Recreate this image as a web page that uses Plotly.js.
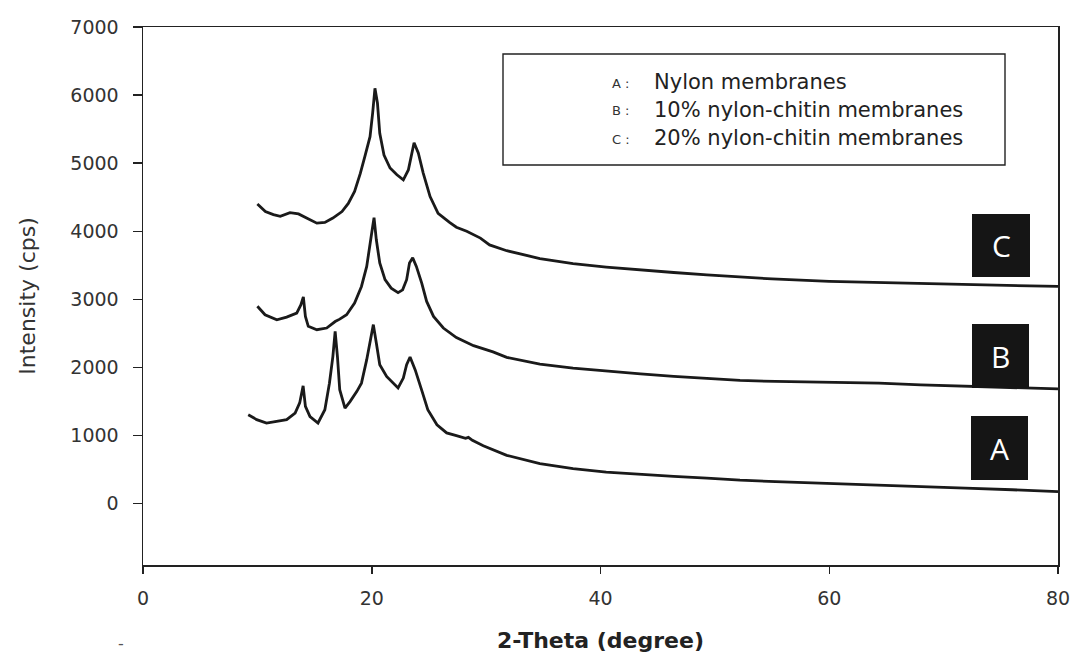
<!DOCTYPE html>
<html>
<head>
<meta charset="utf-8">
<script src="https://cdn.plot.ly/plotly-3.0.1.min.js"></script>
<style>html,body{margin:0;padding:0;background:#fff;}#chart{width:1075px;height:656px;}</style>
</head>
<body>
<div id="chart"></div>
<script>
// ---- Data (2-Theta in degrees, intensity in cps) ----
const xA = [9.2, 9.94, 10.8, 11.7, 12.56, 13.3, 13.7, 14.0, 14.2, 14.6, 15.3, 15.9, 16.3, 16.6, 16.8, 17.0, 17.2, 17.66, 18.1, 18.7, 19.1, 19.56, 19.9, 20.14, 20.4, 20.7, 21.3, 21.9, 22.3, 22.76, 23.05, 23.35, 23.8, 24.4, 24.9, 25.7, 26.55, 27.4, 28.2, 28.45, 28.8, 29.75, 31.2, 31.8, 34.7, 37.6, 40.5, 43.5, 46.4, 49.3, 52.2, 55.3, 60.0, 64.35, 68.0, 71.9, 76.0, 80.0];
const yA = [1305, 1235, 1185, 1210, 1235, 1330, 1480, 1730, 1430, 1280, 1185, 1380, 1770, 2160, 2530, 2160, 1675, 1405, 1500, 1650, 1770, 2115, 2455, 2630, 2360, 2040, 1870, 1770, 1700, 1845, 2040, 2155, 1965, 1650, 1380, 1160, 1040, 1000, 960, 975, 930, 850, 750, 710, 590, 515, 465, 430, 400, 375, 345, 325, 300, 280, 255, 230, 205, 178];

const xB = [10.0, 10.67, 11.7, 12.56, 13.44, 13.8, 14.02, 14.2, 14.45, 15.2, 16.06, 16.8, 17.2, 17.8, 18.5, 19.1, 19.56, 19.85, 20.08, 20.2, 20.4, 20.7, 21.16, 21.7, 22.3, 22.7, 23.05, 23.3, 23.58, 23.9, 24.37, 24.8, 25.4, 26.26, 27.4, 28.9, 30.6, 31.8, 34.7, 37.6, 40.5, 43.5, 46.4, 49.3, 52.2, 55.3, 60.0, 64.35, 68.0, 71.9, 76.0, 80.0];
const yB = [2900, 2775, 2700, 2740, 2800, 2920, 3035, 2750, 2605, 2555, 2580, 2675, 2710, 2775, 2945, 3190, 3485, 3775, 4070, 4200, 3875, 3535, 3290, 3165, 3100, 3140, 3290, 3535, 3610, 3485, 3240, 2970, 2750, 2580, 2440, 2320, 2230, 2150, 2050, 1990, 1945, 1905, 1870, 1840, 1810, 1795, 1780, 1770, 1745, 1722, 1700, 1685];

const xC = [10.0, 10.7, 11.4, 12.0, 12.85, 13.6, 14.3, 15.2, 15.9, 16.6, 17.4, 17.95, 18.5, 19.0, 19.4, 19.85, 20.08, 20.28, 20.5, 20.7, 21.07, 21.6, 22.2, 22.76, 23.2, 23.5, 23.7, 24.07, 24.5, 25.1, 25.8, 26.8, 27.4, 28.3, 29.5, 30.3, 31.8, 34.7, 37.6, 40.5, 43.5, 46.4, 49.3, 52.2, 55.0, 60.0, 65.0, 70.0, 75.0, 80.0];
const yC = [4400, 4290, 4245, 4220, 4275, 4255, 4195, 4120, 4130, 4195, 4290, 4410, 4585, 4850, 5100, 5390, 5740, 6100, 5880, 5440, 5120, 4930, 4830, 4755, 4900, 5170, 5300, 5150, 4855, 4510, 4265, 4130, 4060, 4000, 3900, 3800, 3715, 3600, 3525, 3475, 3430, 3395, 3360, 3325, 3300, 3265, 3245, 3225, 3205, 3190];

const seriesNames = ['Nylon membranes', '10% nylon-chitin membranes', '20% nylon-chitin membranes'];
const seriesKeys = ['A', 'B', 'C'];
const xTicks = [0, 20, 40, 60, 80];
const yTicks = [0, 1000, 2000, 3000, 4000, 5000, 6000, 7000];
const xTitle = '2-Theta (degree)';
const yTitle = 'Intensity (cps)';

// ---- Layout helpers (pixel geometry of the plot frame) ----
const W = 1075, H = 656;
const M = {l: 143, r: 17, t: 27, b: 91};
const PW = W - M.l - M.r, PH = H - M.t - M.b;
const px = v => (v - M.l) / PW;          // page x pixel -> paper
const py = v => (H - M.b - v) / PH;      // page y pixel -> paper

const lineStyle = {color: '#1a1a1a', width: 2.8};
const traces = [[xA, yA], [xB, yB], [xC, yC]].map((d, i) => ({
  type: 'scatter', mode: 'lines', x: d[0], y: d[1],
  name: seriesKeys[i] + ': ' + seriesNames[i],
  line: lineStyle, hoverinfo: 'x+y'
}));

const FONT = 'DejaVu Sans, Arial, sans-serif';
const shapes = [
  {type: 'rect', xref: 'paper', yref: 'paper', x0: px(503), x1: px(1005), y0: py(165), y1: py(54),
   line: {color: '#222', width: 1.4}, fillcolor: 'rgba(255,255,255,0)'}
];
const boxes = [
  {k: 'C', x0: 972, x1: 1030, y0: 214, y1: 277},
  {k: 'B', x0: 972, x1: 1029, y0: 324, y1: 388},
  {k: 'A', x0: 971, x1: 1028, y0: 416, y1: 480}
];
boxes.forEach(b => shapes.push({type: 'rect', xref: 'paper', yref: 'paper', layer: 'above',
  x0: px(b.x0), x1: px(b.x1), y0: py(b.y1), y1: py(b.y0), line: {color: '#111', width: 0}, fillcolor: '#151515'}));

const annotations = [];
const rowsY = [82, 110, 138];
seriesKeys.forEach((k, i) => {
  annotations.push({xref: 'paper', yref: 'paper', x: px(610), y: py(rowsY[i] + 1), xanchor: 'left', yanchor: 'middle',
    text: k + ' :', showarrow: false, font: {family: FONT, size: 13, color: '#333'}});
  annotations.push({xref: 'paper', yref: 'paper', x: px(652), y: py(rowsY[i]), xanchor: 'left', yanchor: 'middle',
    text: seriesNames[i], showarrow: false, font: {family: FONT, size: 21, color: '#222'}});
});
boxes.forEach(b => annotations.push({xref: 'paper', yref: 'paper', x: px((b.x0 + b.x1) / 2), y: py((b.y0 + b.y1) / 2),
  xanchor: 'center', yanchor: 'middle', text: b.k, showarrow: false,
  font: {family: 'Open Sans, DejaVu Sans, sans-serif', size: 30, color: '#ffffff'}}));
annotations.push({xref: 'paper', yref: 'paper', x: px(121), y: py(643), xanchor: 'center', yanchor: 'middle',
  text: '-', showarrow: false, font: {family: FONT, size: 16, color: '#555'}});

const layout = {
  width: W, height: H,
  margin: M,
  paper_bgcolor: '#ffffff', plot_bgcolor: '#ffffff',
  showlegend: false,
  xaxis: {
    range: [0, 80], tickvals: xTicks, ticktext: xTicks.map(String),
    ticks: 'outside', ticklen: 7, tickwidth: 1.5, tickcolor: '#222',
    ticklabelstandoff: 9,
    showline: true, linecolor: '#222', linewidth: 1.5, mirror: true,
    showgrid: false, zeroline: false,
    tickfont: {family: FONT, size: 19, color: '#333'},
    title: {text: '<b>' + xTitle + '</b>', font: {family: FONT, size: 22, color: '#222'}, standoff: 24}
  },
  yaxis: {
    range: [-900, 7000], tickvals: yTicks, ticktext: yTicks.map(String),
    ticks: 'outside', ticklen: 9, tickwidth: 1.5, tickcolor: '#222',
    ticklabelstandoff: 10,
    showline: true, linecolor: '#222', linewidth: 1.5, mirror: true,
    showgrid: false, zeroline: false,
    tickfont: {family: FONT, size: 19, color: '#333'},
    title: {text: yTitle, font: {family: FONT, size: 22, color: '#333'}, standoff: 28}
  },
  shapes: shapes,
  annotations: annotations
};

Plotly.newPlot('chart', traces, layout, {staticPlot: true, displayModeBar: false});
</script>
</body>
</html>
